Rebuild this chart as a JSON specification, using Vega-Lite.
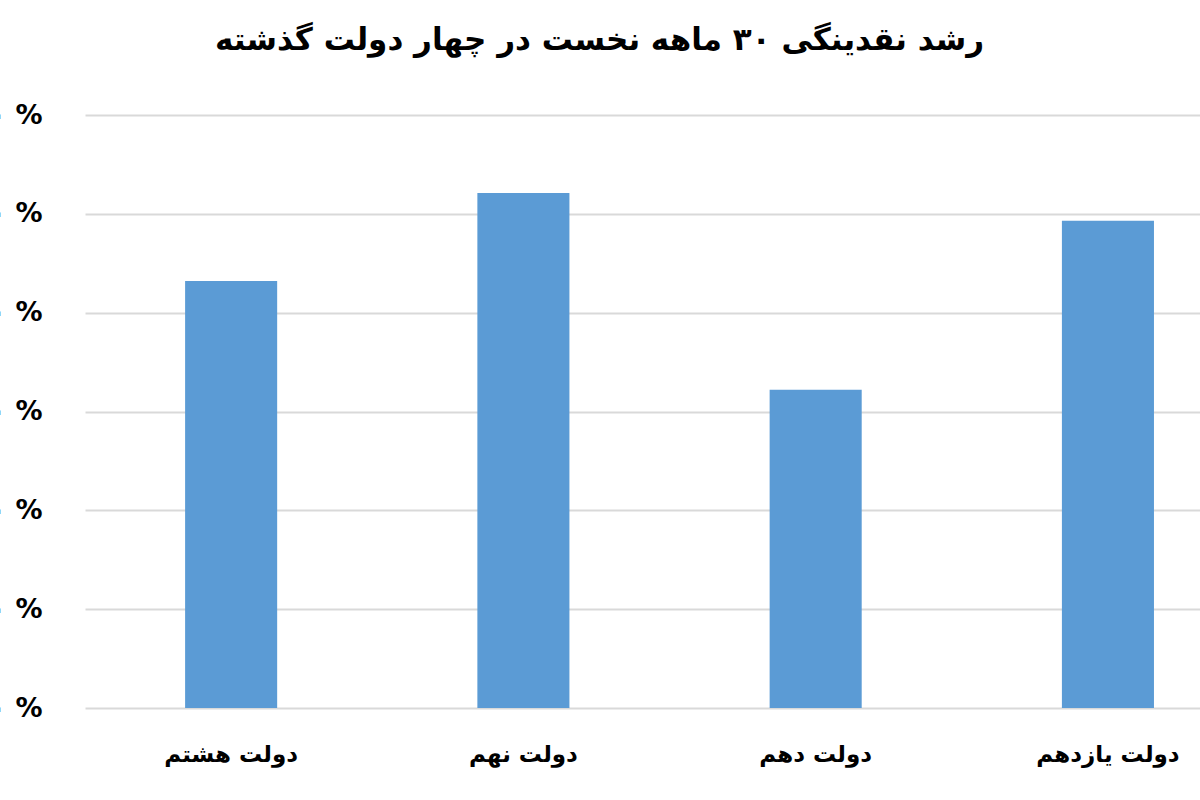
{
  "$schema": "https://vega.github.io/schema/vega-lite/v6.json",
  "autosize": "none",
  "width": 1115,
  "height": 593,
  "padding": {"left": 85, "top": 115, "right": 0, "bottom": 92},
  "background": "white",
  "title": {
    "text": "رشد نقدینگی ۳۰ ماهه نخست در چهار دولت گذشته",
    "font": "DejaVu Sans",
    "fontSize": 31,
    "fontWeight": "bold",
    "color": "#000000",
    "anchor": "middle",
    "dx": -43,
    "offset": 44
  },
  "data": {
    "values": [
      {"dolat": "دولت هشتم", "rank": 1, "growth": 43.2},
      {"dolat": "دولت نهم", "rank": 2, "growth": 52.1},
      {"dolat": "دولت دهم", "rank": 3, "growth": 32.2},
      {"dolat": "دولت یازدهم", "rank": 4, "growth": 49.3}
    ]
  },
  "mark": {"type": "bar", "color": "#5b9bd5"},
  "encoding": {
    "x": {
      "field": "dolat",
      "type": "nominal",
      "sort": {"field": "rank"},
      "scale": {"paddingInner": 0.685, "paddingOuter": 0.25, "align": 0.685},
      "axis": {
        "title": null,
        "labelAngle": 0,
        "labelFont": "DejaVu Sans",
        "labelFontSize": 23,
        "labelFontWeight": "bold",
        "labelColor": "#000000",
        "labelPadding": 35,
        "ticks": false,
        "domain": false
      }
    },
    "y": {
      "field": "growth",
      "type": "quantitative",
      "scale": {"domain": [0, 60], "nice": false},
      "axis": {
        "title": null,
        "values": [0, 10, 20, 30, 40, 50, 60],
        "labelExpr": "datum.value == 60 ? '۶۰ %' : datum.value == 50 ? '۵۰ %' : datum.value == 40 ? '۴۰ %' : datum.value == 30 ? '۳۰ %' : datum.value == 20 ? '۲۰ %' : datum.value == 10 ? '۱۰ %' : '۰ %'",
        "labelFont": "DejaVu Sans",
        "labelFontSize": 27,
        "labelFontWeight": "bold",
        "labelColor": "#000000",
        "labelPadding": 43,
        "ticks": false,
        "domain": false,
        "grid": true,
        "gridColor": "#d9d9d9",
        "gridWidth": 2
      }
    }
  },
  "config": {"view": {"stroke": null}}
}
